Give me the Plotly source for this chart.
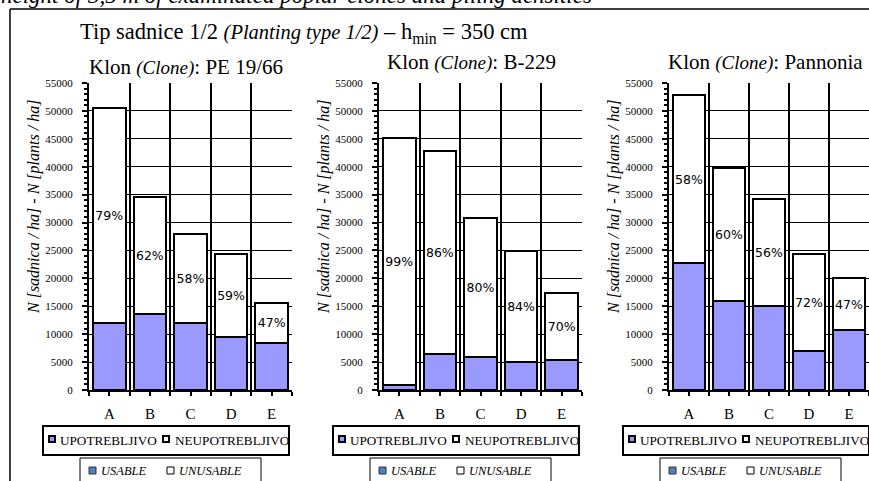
import plotly.graph_objects as go

# ---------------- data ----------------
categories = ["A", "B", "C", "D", "E"]
clones = ["PE 19/66", "B-229", "Pannonia"]

usable_pe = [12000, 13600, 12000, 9500, 8500]
total_pe = [50500, 34600, 28000, 24300, 15600]
pct_pe = ["79%", "62%", "58%", "59%", "47%"]

usable_b = [900, 6400, 6000, 5000, 5300]
total_b = [45200, 42800, 30800, 24900, 17400]
pct_b = ["99%", "86%", "80%", "84%", "70%"]

usable_p = [22800, 15900, 15000, 7000, 10700]
total_p = [52800, 39700, 34200, 24300, 20100]
pct_p = ["58%", "60%", "56%", "72%", "47%"]

y_ticks_major = 5000
y_max = 55000

# ---------------- layout helpers ----------------
W, H = 869, 481
def px(x):
    return x / W
def py(y):
    return 1 - y / H

SERIF = "Liberation Serif"
USABLE_COLOR = "#9999FF"
LEG2_BLUE = "#4F81BD"

panels = [
    dict(usable=usable_pe, total=total_pe, pct=pct_pe, clone=clones[0], x0=89, x1=292, sub_x=186, sub_y=67, ytitle_x=34),
    dict(usable=usable_b, total=total_b, pct=pct_b, clone=clones[1], x0=379, x1=582, sub_x=471, sub_y=62, ytitle_x=324),
    dict(usable=usable_p, total=total_p, pct=pct_p, clone=clones[2], x0=669, x1=869, sub_x=765, sub_y=62, ytitle_x=614),
]
plot_top, plot_bot = 83, 390

fig = go.Figure()
annotations = []
shapes = []
xpos = list(range(len(categories)))
bounds = [i - 0.5 for i in range(len(categories) + 1)]

for i, p in enumerate(panels):
    sfx = "" if i == 0 else str(i + 1)
    unusable = [t - u for t, u in zip(p["total"], p["usable"])]
    fig.add_trace(go.Bar(
        x=xpos, y=p["usable"], width=0.8, xaxis="x" + sfx, yaxis="y" + sfx,
        marker=dict(color=USABLE_COLOR, line=dict(color="black", width=2)),
        showlegend=False, hoverinfo="skip",
    ))
    fig.add_trace(go.Bar(
        x=xpos, y=unusable, width=0.8, xaxis="x" + sfx, yaxis="y" + sfx,
        marker=dict(color="white", line=dict(color="black", width=2)),
        text=p["pct"], textposition="inside", insidetextanchor="middle",
        constraintext="none", textangle=0,
        textfont=dict(family="DejaVu Sans", size=12.5, color="black"),
        showlegend=False, hoverinfo="skip",
    ))
    xa = dict(
        domain=[px(p["x0"]), px(p["x1"])], anchor="y" + sfx, automargin=False,
        range=[-0.5, len(categories) - 0.5],
        tickmode="array", tickvals=xpos, ticktext=categories,
        ticks="outside", ticklen=4, tickwidth=1.5, tickcolor="black",
        showgrid=False, zeroline=False,
        showline=True, linecolor="black", linewidth=2,
        tickfont=dict(family=SERIF, size=15, color="black"),
        ticklabelstandoff=5,
        minor=dict(tickmode="array", tickvals=bounds, ticks="outside", ticklen=4,
                   tickwidth=1.5, tickcolor="black", showgrid=True,
                   gridcolor="black", gridwidth=1.5),
    )
    ya = dict(
        domain=[py(plot_bot), py(plot_top)], anchor="x" + sfx, automargin=False,
        range=[0, y_max], tick0=0, dtick=y_ticks_major, tickformat="d",
        ticks="outside", ticklen=5, tickwidth=2, tickcolor="black",
        showgrid=True, gridcolor="black", gridwidth=1,
        zeroline=False, showline=True, linecolor="black", linewidth=2,
        tickfont=dict(family=SERIF, size=11, color="black"),
        ticklabelstandoff=7,
        minor=dict(dtick=1000, ticks="outside", ticklen=3, tickwidth=1.5,
                   tickcolor="black", showgrid=False),
    )
    fig.update_layout(**{"xaxis" + sfx: xa, "yaxis" + sfx: ya})

    # clone subtitle
    annotations.append(dict(
        x=px(p["sub_x"]), y=py(p["sub_y"]), xref="paper", yref="paper",
        text='Klon <i><span style="font-size:19px">(Clone)</span></i>: ' + p["clone"],
        showarrow=False, xanchor="center", yanchor="middle",
        font=dict(family=SERIF, size=21, color="black"),
    ))
    # y-axis title
    annotations.append(dict(
        x=px(p["ytitle_x"]), y=py(207), xref="paper", yref="paper",
        text="<i>N [sadnica / ha] - N [plants / ha]</i>", textangle=-90,
        showarrow=False, xanchor="center", yanchor="middle",
        font=dict(family=SERIF, size=16, color="black"),
    ))
    # legend box 1
    lx = p["x0"] - 46
    shapes.append(dict(type="rect", xref="paper", yref="paper",
                       x0=px(lx), x1=px(lx + 246), y0=py(455), y1=py(426),
                       line=dict(color="black", width=2), fillcolor="white"))
    shapes.append(dict(type="rect", xref="paper", yref="paper",
                       x0=px(lx + 6), x1=px(lx + 12), y0=py(442), y1=py(436),
                       line=dict(color="black", width=2), fillcolor=USABLE_COLOR))
    shapes.append(dict(type="rect", xref="paper", yref="paper",
                       x0=px(lx + 120), x1=px(lx + 126), y0=py(442), y1=py(436),
                       line=dict(color="black", width=2), fillcolor="white"))
    annotations.append(dict(x=px(lx + 15), y=py(440), xref="paper", yref="paper",
                            text="UPOTREBLJIVO", showarrow=False, xanchor="left", yanchor="middle",
                            font=dict(family=SERIF, size=13.2, color="black")))
    annotations.append(dict(x=px(lx + 130), y=py(440), xref="paper", yref="paper",
                            text="NEUPOTREBLJIVO", showarrow=False, xanchor="left", yanchor="middle",
                            font=dict(family=SERIF, size=13.2, color="black")))
    # legend box 2
    bx = p["x0"] - 9
    shapes.append(dict(type="rect", xref="paper", yref="paper",
                       x0=px(bx), x1=px(bx + 181), y0=py(484), y1=py(458),
                       line=dict(color="black", width=1), fillcolor="white"))
    shapes.append(dict(type="rect", xref="paper", yref="paper",
                       x0=px(bx + 9), x1=px(bx + 16), y0=py(474), y1=py(467),
                       line=dict(color="#333333", width=1), fillcolor=LEG2_BLUE))
    shapes.append(dict(type="rect", xref="paper", yref="paper",
                       x0=px(bx + 87), x1=px(bx + 94), y0=py(474), y1=py(467),
                       line=dict(color="black", width=1), fillcolor="white"))
    annotations.append(dict(x=px(bx + 19), y=py(471), xref="paper", yref="paper",
                            text="<i>USABLE</i>", showarrow=False, xanchor="left", yanchor="middle",
                            font=dict(family=SERIF, size=12.5, color="black")))
    annotations.append(dict(x=px(bx + 97), y=py(471), xref="paper", yref="paper",
                            text="<i>UNUSABLE</i>", showarrow=False, xanchor="left", yanchor="middle",
                            font=dict(family=SERIF, size=12.5, color="black")))

# main title
annotations.append(dict(
    x=px(304), y=py(33), xref="paper", yref="paper",
    text='Tip sadnice 1/2 <i><span style="font-size:20.5px">(Planting type 1/2)</span></i> – h<sub>min</sub> = 350 cm',
    showarrow=False, xanchor="center", yanchor="middle",
    font=dict(family=SERIF, size=22.5, color="black"),
))
# cut-off caption at top
annotations.append(dict(
    x=px(-1), y=py(10), xref="paper", yref="paper",
    text="<i>height of 3,5 m of examinated poplar clones and piling densities</i>",
    showarrow=False, xanchor="left", yanchor="bottom",
    font=dict(family=SERIF, size=23, color="black"),
))
# outer frame
shapes.append(dict(type="line", xref="paper", yref="paper",
                   x0=px(10), x1=px(869), y0=py(9), y1=py(9), line=dict(color="black", width=1.5)))
shapes.append(dict(type="line", xref="paper", yref="paper",
                   x0=px(10), x1=px(10), y0=py(9), y1=py(481), line=dict(color="black", width=1.5)))

fig.update_layout(
    width=W, height=H, margin=dict(l=0, r=0, t=0, b=0, autoexpand=False),
    paper_bgcolor="white", plot_bgcolor="white",
    barmode="stack", bargap=0.2, showlegend=False,
    annotations=annotations, shapes=shapes,
)

fig.write_html(
    "out.html",
    config=dict(displayModeBar=False),
    post_script="document.body.style.margin='0';document.body.style.overflow='hidden';",
)
